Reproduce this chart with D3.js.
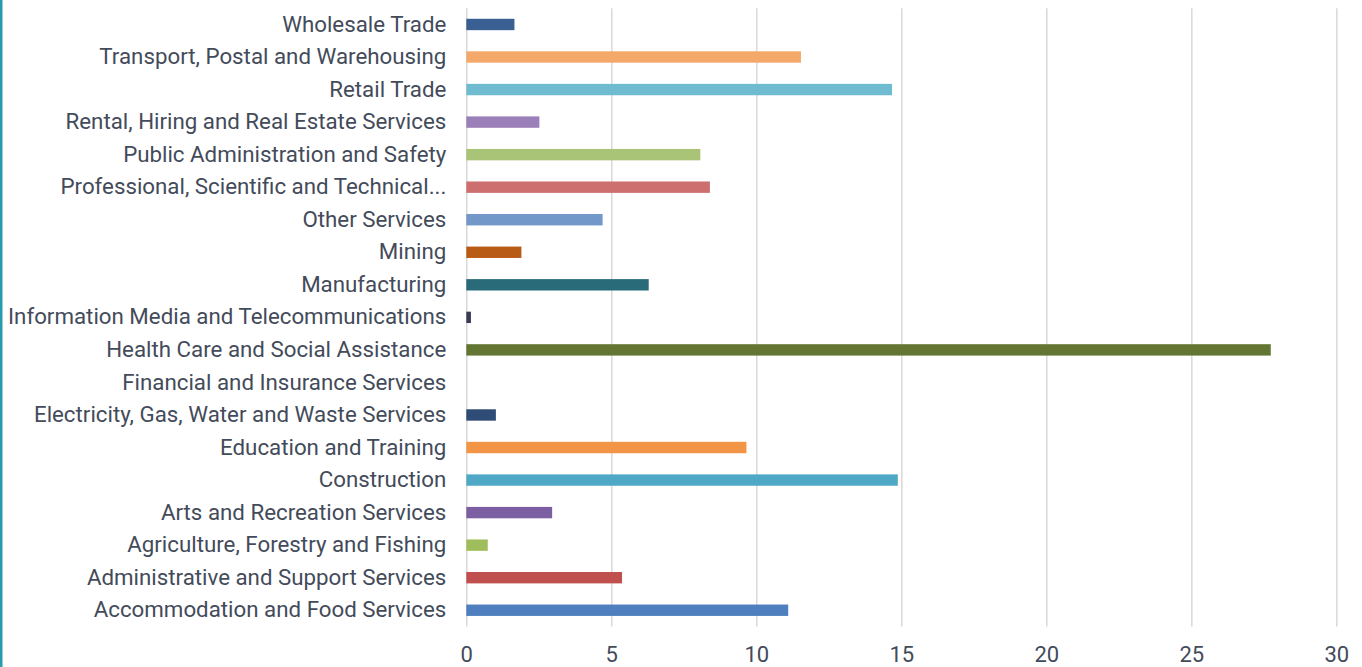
<!DOCTYPE html>
<html>
<head>
<meta charset="utf-8">
<script src="https://cdn.jsdelivr.net/npm/d3@7"></script>
<style>
  html, body { margin: 0; padding: 0; background: #fff; }
  #chart { position: relative; width: 1362px; height: 667px; }
  #chart svg text { font-family: Roboto, "Noto Sans", sans-serif; fill: #434b5a; }
</style>
</head>
<body>
<div id="chart"></div>
<script>
// industries, bottom to top as they appear in the chart
const industries = [
  "Accommodation and Food Services",
  "Administrative and Support Services",
  "Agriculture, Forestry and Fishing",
  "Arts and Recreation Services",
  "Construction",
  "Education and Training",
  "Electricity, Gas, Water and Waste Services",
  "Financial and Insurance Services",
  "Health Care and Social Assistance",
  "Information Media and Telecommunications",
  "Manufacturing",
  "Mining",
  "Other Services",
  "Professional, Scientific and Technical...",
  "Public Administration and Safety",
  "Rental, Hiring and Real Estate Services",
  "Retail Trade",
  "Transport, Postal and Warehousing",
  "Wholesale Trade"
];
const values = [11.1, 5.37, 0.74, 2.96, 14.88, 9.66, 1.02, 0, 27.74, 0.16,
                6.29, 1.9, 4.7, 8.4, 8.07, 2.52, 14.68, 11.54, 1.66];
const barColors = ["#4f7fbe", "#c0504d", "#9fbe5b", "#7c5ea3", "#4fa9c6", "#f39546",
                   "#2e4c76", "#ffffff", "#637532", "#3b3b58", "#2a6b7a", "#b85b14",
                   "#7297c9", "#cd6f6f", "#a9c476", "#9a7fb8", "#6fbcd1", "#f4a96a", "#3a5f93"];
const xTicks = [0, 5, 10, 15, 20, 25, 30];

const W = 1362, H = 667;
const svg = d3.select("#chart").append("svg").attr("width", W).attr("height", H);

// teal strip on the left edge
svg.append("rect").attr("x", 0).attr("y", 0).attr("width", 2.5).attr("height", H)
   .attr("fill", "#2a9cb0");

const x = d3.scaleLinear().domain([0, 30]).range([466.3, 1336.3]);
const y = d3.scaleBand().domain(industries.slice().reverse())
            .range([8.2, 626.5]).paddingInner(0.65).paddingOuter(0.325);

// vertical gridlines
svg.append("g").attr("class", "grid")
   .attr("transform", "translate(0,626.5)")
   .call(d3.axisBottom(x).tickValues(xTicks).tickSize(-618.3).tickFormat(""))
   .call(g => g.select(".domain").remove())
   .call(g => g.selectAll("line").attr("stroke", "#d9d9d9").attr("stroke-width", 1.5));

// bars
svg.selectAll("rect.bar").data(industries).enter().append("rect")
   .attr("class", "bar")
   .attr("x", x(0))
   .attr("y", d => y(d))
   .attr("width", (d, i) => x(values[i]) - x(0))
   .attr("height", y.bandwidth())
   .attr("fill", (d, i) => barColors[i]);

// category labels
svg.append("g")
   .attr("transform", "translate(" + (x(0) - 20) + ",0)")
   .call(d3.axisLeft(y).tickSize(0).tickPadding(0))
   .call(g => g.select(".domain").remove())
   .call(g => g.selectAll("text").attr("font-size", 22.3).attr("fill", "#434b5a"));

// value axis
svg.append("g")
   .attr("transform", "translate(0,642)")
   .call(d3.axisBottom(x).tickValues(xTicks).tickSize(0).tickPadding(4))
   .call(g => g.select(".domain").remove())
   .call(g => g.selectAll("text").attr("font-size", 22).attr("fill", "#434b5a"));
</script>
</body>
</html>
